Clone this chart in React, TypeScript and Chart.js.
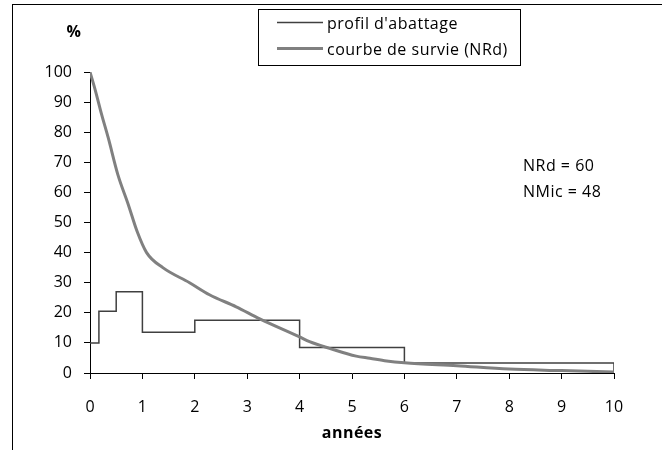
import React, { useEffect, useRef } from "react";
import { Chart, registerables } from "chart.js";

Chart.register(...registerables);

// Profil d'abattage (step histogram)
const stepEdges = [0, 0.17, 0.5, 1, 2, 4, 6, 10];
const stepValues = [10, 20.5, 27, 13.5, 17.5, 8.5, 3.3];

// Courbe de survie (NRd)
const survivalX = [0, 0.1, 0.22, 0.35, 0.53, 0.73, 0.9, 1.08, 1.39, 1.9, 2.28, 2.79, 3.24, 4.0, 4.19, 4.57, 5.08, 5.34, 5.66, 6.0, 7.0, 8.0, 9.0, 10.0];
const survivalY = [100, 94, 86, 78, 66, 56, 47, 40, 35, 30, 26, 22, 18, 12, 10.4, 8.2, 5.6, 4.9, 4.0, 3.4, 2.4, 1.3, 0.8, 0.3];

const legendLabels = ["profil d'abattage", "courbe de survie (NRd)"];
const annotations = ["NRd = 60", "NMic = 48"];
const xTitle = "années";
const yTitle = "%";

const FONT = "'Open Sans', sans-serif";
const FS = 16;

export default function App() {
  const ref = useRef<HTMLCanvasElement>(null);

  useEffect(() => {
    const canvas = ref.current!;
    const histData: { x: number; y: number }[] = stepEdges.map((e, i) => ({
      x: e,
      y: i < stepValues.length ? stepValues[i] : stepValues[stepValues.length - 1],
    }));
    histData.push({ x: stepEdges[stepEdges.length - 1], y: 0 });
    const survData = survivalX.map((x, i) => ({ x, y: survivalY[i] }));

    const decor = {
      id: "decor",
      afterDraw(chart: any) {
        const ctx = chart.ctx as CanvasRenderingContext2D;
        const { chartArea } = chart;
        ctx.save();
        // outer frame
        ctx.strokeStyle = "#000";
        ctx.lineWidth = 1;
        ctx.strokeRect(12.5, 4.5, 800, 600);
        // legend box
        ctx.strokeRect(258.5, 9.5, 262, 56);
        ctx.beginPath();
        ctx.strokeStyle = "#404040";
        ctx.lineWidth = 1.5;
        ctx.moveTo(277, 22.5);
        ctx.lineTo(323, 22.5);
        ctx.stroke();
        ctx.beginPath();
        ctx.strokeStyle = "#808080";
        ctx.lineWidth = 3;
        ctx.moveTo(277, 48.5);
        ctx.lineTo(323, 48.5);
        ctx.stroke();
        ctx.fillStyle = "#000";
        ctx.font = `${FS}px ${FONT}`;
        (ctx as any).letterSpacing = "0.5px";
        ctx.textAlign = "left";
        ctx.textBaseline = "middle";
        ctx.fillText(legendLabels[0], 327, 24);
        ctx.fillText(legendLabels[1], 327, 50);
        // annotations
        ctx.fillText(annotations[0], 523, 166);
        ctx.fillText(annotations[1], 523, 192);
        // titles
        ctx.font = `bold ${FS}px ${FONT}`;
        ctx.textAlign = "center";
        ctx.fillText(yTitle, 74, 32);
        ctx.fillText(xTitle, (chartArea.left + chartArea.right) / 2, 433);
        (ctx as any).letterSpacing = "0px";
        ctx.restore();
      },
    };

    const chart = new Chart(canvas, {
      type: "line",
      data: {
        datasets: [
          {
            label: legendLabels[1],
            data: survData,
            borderColor: "#808080",
            borderWidth: 3,
            pointRadius: 0,
            cubicInterpolationMode: "monotone",
            fill: false,
            order: 0,
          },
          {
            label: legendLabels[0],
            data: histData,
            borderColor: "#404040",
            borderWidth: 1.5,
            pointRadius: 0,
            stepped: "before",
            fill: false,
            order: 1,
          },
        ],
      },
      options: {
        animation: false,
        responsive: false,
        layout: { padding: { left: 0, top: 72, right: 48, bottom: 0 } },
        plugins: { legend: { display: false }, tooltip: { enabled: false } },
        scales: {
          x: {
            type: "linear",
            min: 0,
            max: 10,
            ticks: {
              stepSize: 1,
              color: "#000",
              font: { family: FONT, size: FS },
              padding: 19,
              maxRotation: 0,
              autoSkip: false,
            },
            grid: { drawOnChartArea: false, drawTicks: true, tickLength: 6, color: "#000" },
            border: { display: true, color: "#000", width: 1 },
            afterFit(s: any) {
              s.height = 77;
            },
          },
          y: {
            type: "linear",
            min: 0,
            max: 100,
            ticks: {
              stepSize: 10,
              color: "#000",
              font: { family: FONT, size: FS },
              padding: 12,
            },
            grid: { drawOnChartArea: false, drawTicks: true, tickLength: 6, color: "#000" },
            border: { display: true, color: "#000", width: 1 },
            afterFit(s: any) {
              s.width = 90;
            },
          },
        },
      },
      plugins: [decor],
    } as any);
    return () => chart.destroy();
  }, []);

  return (
    <div style={{ position: "absolute", left: 0, top: 0, width: 662, height: 450, background: "#fff" }}>
      <canvas ref={ref} width={662} height={450} style={{ display: "block" }} />
    </div>
  );
}
